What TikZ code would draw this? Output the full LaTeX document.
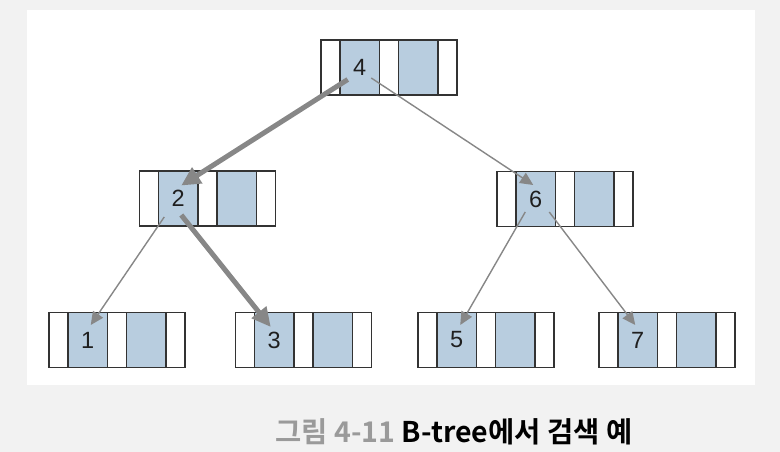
\documentclass[tikz,border=0pt]{standalone}
\usepackage{fontspec}
\setmainfont{Liberation Sans}
\newfontfamily\krb{Noto Sans CJK KR Bold}
\usetikzlibrary{arrows.meta}
\definecolor{bg}{HTML}{F2F2F2}
\definecolor{keyblue}{HTML}{B8CDDF}
\definecolor{edgecol}{HTML}{333333}
\definecolor{arr}{HTML}{878787}
\definecolor{capgray}{HTML}{9A9A9A}
\newcommand\btreenode[4]{%
  \node[wcell] (#1a) at (#2-58.5,#3) {};
  \node[bcell] (#1) at (#2-29.25,#3) {#4};
  \node[wcell] (#1c) at (#2,#3) {};
  \node[bcell] (#1d) at (#2+29.25,#3) {};
  \node[wcell] (#1e) at (#2+58.5,#3) {};
}
\begin{document}
\begin{tikzpicture}[x=1pt,y=-1pt,
  cell/.style={draw=edgecol, line width=1.3pt, inner sep=0pt, outer sep=0pt,
    minimum height=55pt, font=\fontsize{23.5}{23.5}\selectfont, text=black!88},
  wcell/.style={cell, fill=white, minimum width=19pt},
  bcell/.style={cell, fill=keyblue, minimum width=39.5pt},
  thinarrow/.style={draw=arr, line width=1.4pt, -{Triangle[length=13pt,width=12pt]}},
  thickarrow/.style={draw=arr, line width=5pt, -{Triangle[length=19pt,width=18pt]}},
  caption/.style={font=\krb\fontsize{28.5}{28.5}\selectfont, inner sep=0pt}
]
\fill[bg] (0,0) rectangle (780,452);
\fill[white] (27,10) rectangle (755,385);
\useasboundingbox (0,0) rectangle (780,452);

\btreenode{k4}{389}{67.5}{4}
\btreenode{k2}{207.5}{198.5}{2}
\btreenode{k6}{565}{199}{6}
\btreenode{k1}{117}{340}{1}
\btreenode{k3}{303.5}{340}{3}
\btreenode{k5}{486}{340}{5}
\btreenode{k7}{667}{340}{7}

\draw[thinarrow] ([shift={(11.5,10.5)}]k4.center) -- ([shift={(-2.5,-14)}]k6.center);
\draw[thinarrow] ([shift={(-14,18.5)}]k2.center) -- ([shift={(3,-15)}]k1.center);
\draw[thinarrow] ([shift={(-10.5,13)}]k6.center) -- ([shift={(3.5,-15)}]k5.center);
\draw[thinarrow] ([shift={(13.5,13)}]k6.center) -- ([shift={(-2.5,-15)}]k7.center);
\draw[thickarrow] ([shift={(-12,12)}]k4.center) -- ([shift={(3,-13)}]k2.center);
\draw[thickarrow] ([shift={(3,16.5)}]k2.center) -- ([shift={(-3.5,-13)}]k3.center);

\node[caption] (cap) at (454,432) {\textcolor{capgray}{그림 4-11} B-tree에서 검색 예};
\end{tikzpicture}
\end{document}
